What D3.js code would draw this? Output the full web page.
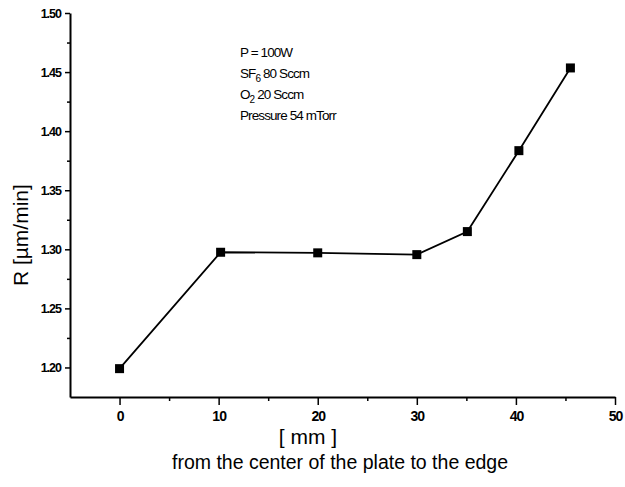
<!DOCTYPE html>
<html>
<head>
<meta charset="utf-8">
<script src="https://cdn.jsdelivr.net/npm/d3@7"></script>
<style>
  body { margin: 0; background: #fff; }
  svg { font-family: 'Liberation Sans', Arial, sans-serif; }
  .tick text { fill: #000; }
</style>
</head>
<body>
<svg class="chart"></svg>
<script>
// Etch rate along the plate
const distance = [0, 10.2, 20, 30, 35.1, 40.3, 45.5]
const rate = [1.199, 1.2975, 1.297, 1.2955, 1.315, 1.3835, 1.4535]

const xMajor = [0, 10, 20, 30, 40, 50]
const xMinor = [5, 15, 25, 35, 45]
const yMajor = [1.20, 1.25, 1.30, 1.35, 1.40, 1.45, 1.50]
const yMinor = [1.225, 1.275, 1.325, 1.375, 1.425, 1.475]

const conditions = [
	['P = 100W'],
	['SF', '6', ' 80 Sccm'],
	['O', '2', '  20 Sccm'],
	['Pressure 54 mTorr'],
]

const [width, height] = [625, 487]
const margin = { left: 70, right: 10, top: 13, bottom: 90 }

const svg = d3.select('svg.chart')
	.attr('width', width)
	.attr('height', height)

const x = d3.scaleLinear()
	.domain([-5, 50])
	.range([margin.left, 615])

const y = d3.scaleLinear()
	.domain([1.175, 1.50])
	.range([397, margin.top])

// minor ticks
svg.append('g')
	.attr('transform', `translate(0,${y(1.175)})`)
	.call(d3.axisBottom(x).tickValues(xMinor).tickSize(4).tickFormat(''))
	.call(g => g.select('.domain').remove())
	.selectAll('line').attr('stroke-width', 1.5)

svg.append('g')
	.attr('transform', `translate(${x(-5)},0)`)
	.call(d3.axisLeft(y).tickValues(yMinor).tickSize(3).tickFormat(''))
	.call(g => g.select('.domain').remove())
	.selectAll('line').attr('stroke-width', 1.5)

// major axes
const xAxis = svg.append('g')
	.attr('transform', `translate(0,${y(1.175)})`)
	.call(d3.axisBottom(x).tickValues(xMajor).tickSize(8).tickPadding(6).tickSizeOuter(0))
xAxis.select('.domain').attr('stroke-width', 2)
xAxis.selectAll('line').attr('stroke-width', 1.5)
xAxis.selectAll('text')
	.attr('font-size', 14)
	.attr('font-weight', 'bold')
	.attr('letter-spacing', -1)

const yAxis = svg.append('g')
	.attr('transform', `translate(${x(-5)},0)`)
	.call(d3.axisLeft(y).tickValues(yMajor).tickSize(5).tickPadding(4).tickSizeOuter(0)
		.tickFormat(d3.format('.2f')))
yAxis.select('.domain').attr('stroke-width', 2)
yAxis.selectAll('line').attr('stroke-width', 1.5)
yAxis.selectAll('text')
	.attr('font-size', 12.5)
	.attr('font-weight', 'bold')
	.attr('letter-spacing', -1)

// axis titles
svg.append('text')
	.attr('transform', `translate(28,${y(1.312)}) rotate(-90)`)
	.attr('text-anchor', 'middle')
	.attr('font-size', 21)
	.text('R [µm/min]')

svg.append('text')
	.attr('x', 308)
	.attr('y', 444)
	.attr('text-anchor', 'middle')
	.attr('font-size', 21)
	.text('[ mm ]')

svg.append('text')
	.attr('x', 340)
	.attr('y', 469)
	.attr('text-anchor', 'middle')
	.attr('font-size', 19.5)
	.text('from the center of the plate to the edge')

// data
const points = distance.map((d, i) => [d, rate[i]])

svg.append('path')
	.datum(points)
	.attr('fill', 'none')
	.attr('stroke', '#000')
	.attr('stroke-width', 1.8)
	.attr('d', d3.line().x(d => x(d[0])).y(d => y(d[1])))

svg.selectAll('rect.pt')
		.data(points)
	.enter().append('rect')
		.attr('class', 'pt')
		.attr('x', d => x(d[0]) - 4.5)
		.attr('y', d => y(d[1]) - 4.5)
		.attr('width', 9)
		.attr('height', 9)
		.attr('fill', '#000')

// process conditions
const note = svg.append('text')
	.attr('font-size', 13.5)
	.attr('letter-spacing', -0.9)

conditions.forEach((parts, i) => {
	const line = note.append('tspan')
		.attr('x', 240)
		.attr('y', 57 + i * 21)
	line.append('tspan').text(parts[0])
	if (parts.length > 1) {
		line.append('tspan').attr('dy', 4).attr('font-size', 10).text(parts[1])
		line.append('tspan').attr('dy', -4).text(parts[2])
	}
})
</script>
</body>
</html>
